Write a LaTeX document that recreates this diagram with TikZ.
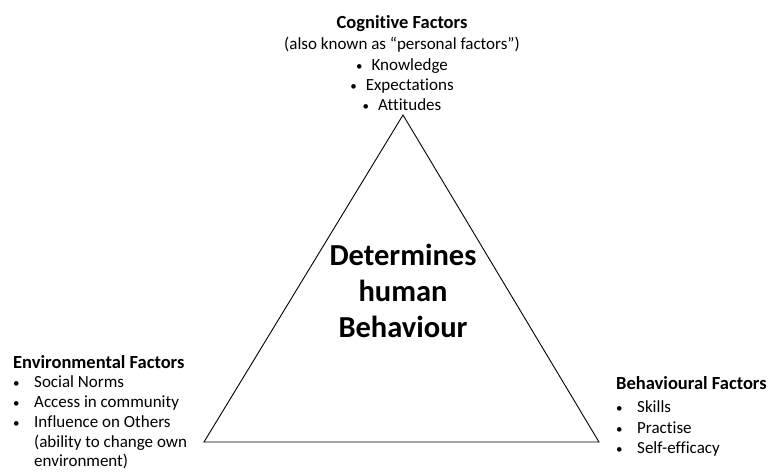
\documentclass[tikz,border=0pt]{standalone}
\usepackage{fontspec}
\setmainfont{Carlito}[RawFeature=-liga]
\usetikzlibrary{positioning}
\newcommand{\dotmark}{{\fontsize{13}{13}\selectfont\textbullet}}
\newcommand{\bitem}[1]{\makebox[21pt][l]{\dotmark}#1}
\newcommand{\bgap}{\hspace*{21pt}}
\tikzset{
  heading/.style={inner sep=0pt, font=\fontsize{18.5}{22}\selectfont\bfseries},
  factor/.style={inner sep=0pt, font=\fontsize{17}{20.3}\selectfont},
  core/.style={inner sep=0pt, align=center, font=\fontsize{30.5}{36}\selectfont\bfseries}
}
\begin{document}
\begin{tikzpicture}[x=1pt,y=-1pt]
\useasboundingbox (0,0) rectangle (771,473);
% the triangle
\coordinate (top) at (403,115);
\coordinate (left) at (204,442);
\coordinate (right) at (599,442);
\draw[line width=0.9pt, line join=miter] (top) -- (left) -- (right) -- cycle;
\node[core] (centre) at (403,291) {Determines\\human\\Behaviour};
% cognitive factors
\node[heading] (cogtitle) at (402,24) {Cognitive Factors};
\node[factor, align=center, below=5pt of cogtitle] (coglist)
  {(also known as “personal factors”)\\
   \dotmark\hspace{9pt}Knowledge\\\dotmark\hspace{9pt}Expectations\\\dotmark\hspace{9pt}Attitudes};
% environmental factors
\node[heading, anchor=west] (envtitle) at (13,362) {Environmental Factors};
\node[factor, align=left, font=\fontsize{17}{19.8}\selectfont,
      below=7pt of envtitle.south west, anchor=north west] (envlist)
  {\bitem{Social Norms}\\\bitem{Access in community}\\
   \bitem{Influence on Others}\\\bgap(ability to change own\\\bgap environment)};
% behavioural factors
\node[heading, anchor=west] (behtitle) at (616,383) {Behavioural Factors};
\node[factor, align=left, below=11pt of behtitle.south west, anchor=north west] (behlist)
  {\bitem{Skills}\\\bitem{Practise}\\\bitem{Self-efficacy}};
\end{tikzpicture}
\end{document}
